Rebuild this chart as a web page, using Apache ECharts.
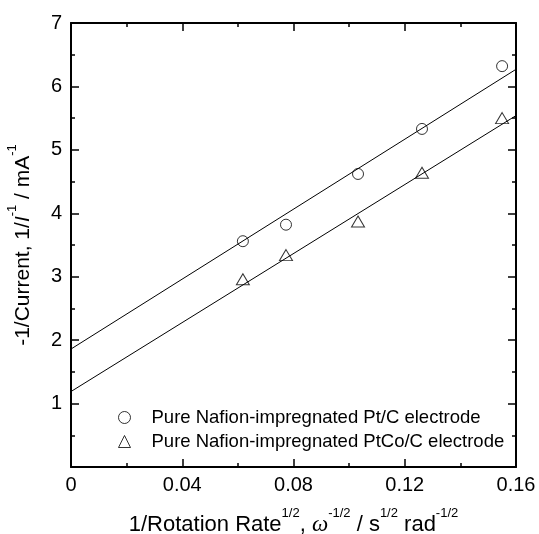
<!DOCTYPE html>
<html>
<head>
<meta charset="utf-8">
<script src="https://cdn.jsdelivr.net/npm/echarts@6/dist/echarts.min.js"></script>
<style>
  html, body { margin: 0; padding: 0; background: #fff; }
  #chart { width: 539px; height: 534px; }
</style>
</head>
<body>
<div id="chart"></div>
<script>
// values
var xTicks = [0, 0.04, 0.08, 0.12, 0.16];
var yTicks = [0, 1, 2, 3, 4, 5, 6, 7];

var ptcX = [0.0618, 0.0773, 0.1032, 0.1262, 0.155];
var ptcY = [3.56, 3.82, 4.62, 5.33, 6.32];

var ptcoX = [0.0618, 0.0773, 0.1032, 0.1262, 0.155];
var ptcoY = [2.96, 3.34, 3.87, 4.64, 5.50];

// fitted straight lines, end points read at x = 0 and x = 0.16
var fitX = [0, 0.16];
var ptcFitY = [1.86, 6.27];
var ptcoFitY = [1.19, 5.54];

var seriesNames = [
  'Pure Nafion-impregnated Pt/C electrode',
  'Pure Nafion-impregnated PtCo/C electrode'
];

function pairs(xs, ys) {
  return xs.map(function (x, i) { return [x, ys[i]]; });
}

var font = 'Liberation Sans';
var sup = { fontSize: 13, lineHeight: 13, fontFamily: font, verticalAlign: 'top', color: '#000' };

var chart = echarts.init(document.getElementById('chart'));

var baseX = {
  type: 'value',
  min: xTicks[0],
  max: xTicks[xTicks.length - 1],
  interval: 0.04,
  splitLine: { show: false },
  axisLine: { onZero: false, lineStyle: { color: '#000', width: 2 } },
  axisTick: { inside: true, length: 8, lineStyle: { color: '#000', width: 1.5 } },
  minorTick: { show: true, splitNumber: 2, length: 4, lineStyle: { color: '#000', width: 1.5 } }
};
var baseY = {
  type: 'value',
  min: yTicks[0],
  max: yTicks[yTicks.length - 1],
  interval: 1,
  splitLine: { show: false },
  axisLine: { onZero: false, lineStyle: { color: '#000', width: 2 } },
  axisTick: { inside: true, length: 8, lineStyle: { color: '#000', width: 1.5 } },
  minorTick: { show: true, splitNumber: 2, length: 4, lineStyle: { color: '#000', width: 1.5 } }
};

var option = {
  backgroundColor: '#fff',
  animation: false,
  grid: { left: 71, right: 23, top: 23, bottom: 67, containLabel: false, outerBoundsMode: 'none' },
  xAxis: [
    Object.assign({}, baseX, {
      position: 'bottom',
      axisLabel: {
        color: '#000', fontSize: 20, fontFamily: font, margin: 8,
        formatter: function (v) { return v === 0 ? '0' : v.toFixed(2); }
      },
      name: '1/Rotation Rate{sup|1/2}, {w|ω}{sup|-1/2} / s{sup|1/2} rad{sup|-1/2}',
      nameLocation: 'middle',
      nameGap: 40,
      nameTextStyle: {
        color: '#000', fontSize: 22, lineHeight: 36, fontFamily: font,
        rich: {
          sup: sup,
          w: { fontSize: 23, lineHeight: 36, fontFamily: 'Liberation Serif', fontStyle: 'italic', color: '#000' }
        }
      }
    }),
    Object.assign({}, baseX, { position: 'top', axisLabel: { show: false } })
  ],
  yAxis: [
    Object.assign({}, baseY, {
      position: 'left',
      axisLabel: {
        color: '#000', fontSize: 20, fontFamily: font, margin: 9,
        formatter: function (v) { return v === 0 ? '' : String(v); }
      },
      name: '-1/Current, 1/{i|I}{sup|-1} / mA{sup|-1}',
      nameLocation: 'middle',
      nameRotate: 90,
      nameGap: 23,
      nameTextStyle: {
        color: '#000', fontSize: 21, lineHeight: 34, fontFamily: font,
        rich: {
          sup: sup,
          i: { fontSize: 21, lineHeight: 34, fontFamily: font, fontStyle: 'italic', color: '#000' }
        }
      }
    }),
    Object.assign({}, baseY, { position: 'right', axisLabel: { show: false } })
  ],
  legend: {
    orient: 'vertical',
    left: 113,
    top: 403,
    itemWidth: 12,
    itemHeight: 12,
    itemGap: 5,
    data: seriesNames,
    itemStyle: { borderWidth: 1 },
    textStyle: { color: '#000', fontSize: 18.5, fontFamily: font, padding: [0, 0, 0, 16] }
  },
  series: [
    {
      name: seriesNames[0],
      type: 'scatter',
      symbol: 'circle',
      symbolSize: 11,
      itemStyle: { color: 'rgba(255,255,255,0)', borderColor: '#000', borderWidth: 1 },
      data: pairs(ptcX, ptcY),
      z: 3
    },
    {
      name: seriesNames[1],
      type: 'scatter',
      symbol: 'triangle',
      symbolSize: [13, 11],
      itemStyle: { color: 'rgba(255,255,255,0)', borderColor: '#000', borderWidth: 1 },
      data: pairs(ptcoX, ptcoY),
      z: 3
    },
    {
      type: 'line',
      data: pairs(fitX, ptcFitY),
      symbol: 'none',
      lineStyle: { color: '#000', width: 1 },
      silent: true
    },
    {
      type: 'line',
      data: pairs(fitX, ptcoFitY),
      symbol: 'none',
      lineStyle: { color: '#000', width: 1 },
      silent: true
    }
  ]
};

chart.setOption(option);
</script>
</body>
</html>
